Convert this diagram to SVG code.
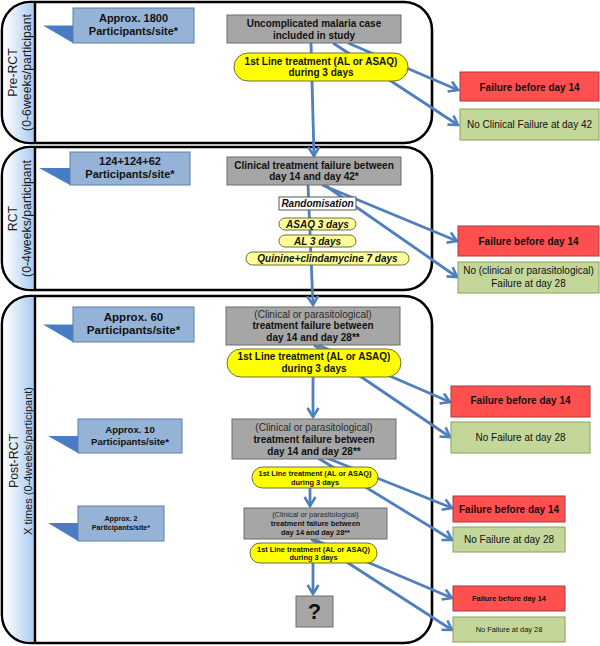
<svg xmlns="http://www.w3.org/2000/svg" width="600" height="646" viewBox="0 0 600 646">
<defs>
<linearGradient id="band" x1="0" y1="0" x2="1" y2="0">
<stop offset="0" stop-color="#ffffff"/>
<stop offset="1" stop-color="#a6caf0"/>
</linearGradient>
<marker id="arr" markerUnits="userSpaceOnUse" markerWidth="16" markerHeight="16" viewBox="0 0 16 16" refX="12" refY="8" orient="auto">
<path d="M3,2.5 L12,8 L3,13.5" fill="none" stroke="#4f7fbf" stroke-width="2.6" stroke-linejoin="miter"/>
</marker>
</defs>
<style>
text{font-family:"Liberation Sans",Arial,Helvetica,sans-serif;fill:#111;text-anchor:middle}
.b{font-weight:bold}
.bi{font-weight:bold;font-style:italic}
.pan{fill:#fff;stroke:#000;stroke-width:2.6}
.band{fill:url(#band)}
.sep{stroke:#000;stroke-width:2.4}
.lab{font-size:12.3px;fill:#1a1a1a}
.call{fill:#95b3d7;stroke:#5d7ea8;stroke-width:1}
.tri{fill:#4a7cc6}
.gray{fill:#a6a6a6;stroke:#6d6d6d;stroke-width:1}
.yel{fill:#ffff00;stroke:#6f6f3a;stroke-width:1}
.lyel{fill:#ffff99;stroke:#6f6f3a;stroke-width:1}
.wht{fill:#fff;stroke:#555;stroke-width:1}
.red{fill:#ff4f4f;stroke:#a83a3a;stroke-width:1}
.grn{fill:#c4d79b;stroke:#8aa05a;stroke-width:1}
.con{fill:none;stroke:#4f7fbf;stroke-width:2.8;marker-end:url(#arr)}
.conn{fill:none;stroke:#4f7fbf;stroke-width:2.8}
.f10{font-size:10px}
.f11{font-size:11px}
.f7{font-size:7.4px}
</style>

<!-- Panels -->
<g id="panel-prerct">
<path class="pan" d="M30,2 H404 A28,28 0 0 1 432,30 V115 A28,28 0 0 1 404,143 H30 A28,28 0 0 1 2,115 V30 A28,28 0 0 1 30,2 Z"/>
<path class="band" d="M35,3.3 H30 A26.7,26.7 0 0 0 3.3,30 V115 A26.7,26.7 0 0 0 30,141.7 H35 Z"/>
<line class="sep" x1="35" y1="2" x2="35" y2="143"/>
<text class="lab" transform="translate(17,72.5) rotate(-90)">Pre-RCT</text>
<text class="lab" transform="translate(31,72.5) rotate(-90)">(0-6weeks/participant</text>
</g>
<g id="panel-rct">
<path class="pan" d="M30,147 H404 A28,28 0 0 1 432,175 V262 A28,28 0 0 1 404,290 H30 A28,28 0 0 1 2,262 V175 A28,28 0 0 1 30,147 Z"/>
<path class="band" d="M35,148.3 H30 A26.7,26.7 0 0 0 3.3,175 V262 A26.7,26.7 0 0 0 30,288.7 H35 Z"/>
<line class="sep" x1="35" y1="147" x2="35" y2="290"/>
<text class="lab" transform="translate(17,218.5) rotate(-90)">RCT</text>
<text class="lab" transform="translate(31,218.5) rotate(-90)">(0-4weeks/participant</text>
</g>
<g id="panel-postrct">
<path class="pan" d="M30,296 H404 A28,28 0 0 1 432,324 V615 A28,28 0 0 1 404,643 H30 A28,28 0 0 1 2,615 V324 A28,28 0 0 1 30,296 Z"/>
<path class="band" d="M35,297.3 H30 A26.7,26.7 0 0 0 3.3,324 V615 A26.7,26.7 0 0 0 30,641.7 H35 Z"/>
<line class="sep" x1="35" y1="296" x2="35" y2="643"/>
<text class="lab" transform="translate(18,461) rotate(-90)">Post-RCT</text>
<text class="lab" transform="translate(32,461) rotate(-90)" style="font-size:11px">X times (0-4weeks/participant)</text>
</g>

<!-- Connectors -->
<g id="connectors">
<path class="con" d="M311,43 L314,156"/>
<path class="con" d="M348,43 L458,90"/>
<path class="con" d="M333,43 L458,125"/>
<path class="con" d="M308,185 L313,305"/>
<path class="con" d="M322,185 L457,241"/>
<path class="con" d="M326,186 L457,277"/>
<path class="con" d="M318,345 L450,402"/>
<path class="con" d="M314,345 L450,437"/>
<path class="con" d="M313,377 L313,417"/>
<path class="con" d="M327,458 L452,508"/>
<path class="con" d="M318,458 L452,540"/>
<path class="con" d="M310,488 L310,506"/>
<path class="con" d="M313,539 L452,598"/>
<path class="con" d="M311,539 L452,630"/>
<path class="con" d="M313,563 L313,594"/>
</g>

<!-- Callouts -->
<g id="callout-1800">
<polygon class="tri" points="43,25.5 73,25.5 73,43"/>
<rect class="call" x="73" y="8" width="121" height="35"/>
<text class="b f11" x="133.5" y="22">Approx. 1800</text>
<text class="b f11" x="133.5" y="35">Participants/site*</text>
</g>
<g id="callout-124">
<polygon class="tri" points="39,168 70,168 70,185"/>
<rect class="call" x="70" y="152" width="120" height="33"/>
<text class="b f11" x="130" y="165">124+124+62</text>
<text class="b f11" x="130" y="177.5">Participants/site*</text>
</g>
<g id="callout-60">
<polygon class="tri" points="43,324.5 73,324.5 73,342"/>
<rect class="call" x="73" y="307" width="121" height="35"/>
<text class="b" style="font-size:11.5px" x="133.5" y="321">Approx. 60</text>
<text class="b" style="font-size:11.5px" x="133.5" y="334">Participants/site*</text>
</g>
<g id="callout-10">
<polygon class="tri" points="48,436 78,436 78,453"/>
<rect class="call" x="78" y="419" width="104" height="34"/>
<text class="b" style="font-size:9.6px" x="130" y="433">Approx. 10</text>
<text class="b" style="font-size:9.6px" x="130" y="445">Participants/site*</text>
</g>
<g id="callout-2">
<polygon class="tri" points="48,523 78,523 78,541"/>
<rect class="call" x="78" y="506" width="86" height="35"/>
<text class="b" style="font-size:7.2px" x="121" y="521">Approx. 2</text>
<text class="b" style="font-size:7.2px" x="121" y="529.5">Participants/site*</text>
</g>

<!-- Pre-RCT nodes -->
<g id="case">
<rect class="gray" x="227" y="15" width="174" height="28"/>
<text class="b f10" x="314" y="27">Uncomplicated malaria case</text>
<text class="b f10" x="314" y="38.5">included in study</text>
</g>
<g id="treat1">
<rect class="yel" x="234" y="53" width="174" height="28" rx="14"/>
<text class="b f10" x="321" y="64.5">1st Line treatment (AL or ASAQ)</text>
<text class="b f10" x="321" y="76">during 3 days</text>
</g>
<g id="fail1">
<rect class="red" x="460" y="72" width="139" height="29"/>
<text class="b f10" x="529.5" y="90.5">Failure before day 14</text>
</g>
<g id="nofail1">
<rect class="grn" x="460" y="109" width="139" height="31"/>
<text class="f10" x="529.5" y="128">No Clinical Failure at day 42</text>
</g>

<!-- RCT nodes -->
<g id="clinfail">
<rect class="gray" x="227" y="157" width="174" height="28"/>
<text class="b f10" x="314" y="168.5">Clinical treatment failure between</text>
<text class="b f10" x="314" y="180">day 14 and day 42*</text>
</g>
<g id="random">
<rect class="wht" x="279" y="197" width="77" height="13"/>
<text class="bi f10" x="317.5" y="207">Randomisation</text>
</g>
<g id="asaq">
<rect class="lyel" x="279" y="218" width="77" height="12" rx="6"/>
<text class="bi f10" x="317.5" y="227.5">ASAQ 3 days</text>
</g>
<g id="al">
<rect class="lyel" x="279" y="235" width="77" height="12" rx="6"/>
<text class="bi f10" x="317.5" y="244.5">AL 3 days</text>
</g>
<g id="quinine">
<rect class="lyel" x="246" y="252" width="163" height="13" rx="6.5"/>
<text class="bi f10" x="327.5" y="262">Quinine+clindamycine 7 days</text>
</g>
<g id="fail2">
<rect class="red" x="458" y="226" width="141" height="30"/>
<text class="b f10" x="528.5" y="244.5">Failure before day 14</text>
</g>
<g id="nofail2">
<rect class="grn" x="458" y="262" width="141" height="31"/>
<text class="f10" x="528.5" y="274">No (clinical or parasitological)</text>
<text class="f10" x="528.5" y="286.5">Failure at day 28</text>
</g>

<!-- Post-RCT nodes -->
<g id="tf3">
<rect class="gray" x="226" y="307" width="174" height="38"/>
<text class="f10" x="313" y="317.5" style="fill:#2a2a2a">(Clinical or parasitological)</text>
<text class="b f10" x="313" y="329">treatment failure between</text>
<text class="b f10" x="313" y="341">day 14 and day 28**</text>
</g>
<g id="treat3">
<rect class="yel" x="227" y="349" width="174" height="28" rx="14"/>
<text class="b f10" x="314" y="360">1st Line treatment (AL or ASAQ)</text>
<text class="b f10" x="314" y="372">during 3 days</text>
</g>
<g id="fail3">
<rect class="red" x="451" y="386" width="139" height="31"/>
<text class="b f10" x="520.5" y="404">Failure before day 14</text>
</g>
<g id="nofail3">
<rect class="grn" x="451" y="422" width="139" height="31"/>
<text class="f10" x="520.5" y="441">No Failure at day 28</text>
</g>
<g id="tf4">
<rect class="gray" x="232" y="419" width="164" height="40"/>
<text class="f10" x="314" y="430.5" style="fill:#2a2a2a">(Clinical or parasitological)</text>
<text class="b f10" x="314" y="442.5">treatment failure between</text>
<text class="b f10" x="314" y="454.5">day 14 and day 28**</text>
</g>
<g id="treat4">
<rect class="yel" x="252" y="467" width="126" height="21" rx="10.5"/>
<text class="b f7" x="315" y="476">1st Line treatment (AL or ASAQ)</text>
<text class="b f7" x="315" y="484.5">during 3 days</text>
</g>
<g id="fail4">
<rect class="red" x="453" y="496" width="112" height="26"/>
<text class="b f10" x="509" y="512.5">Failure before day 14</text>
</g>
<g id="nofail4">
<rect class="grn" x="453" y="527" width="112" height="25"/>
<text class="f10" x="509" y="543">No Failure at day 28</text>
</g>
<g id="tf5">
<rect class="gray" x="244" y="508" width="143" height="31"/>
<text class="f7" x="315.5" y="517" style="fill:#2a2a2a">(Clinical or parasitological)</text>
<text class="b f7" x="315.5" y="526">treatment failure between</text>
<text class="b f7" x="315.5" y="535">day 14 and day 28**</text>
</g>
<g id="treat5">
<rect class="yel" x="250" y="543" width="127" height="20" rx="10"/>
<text class="b f7" x="313.5" y="551.5">1st Line treatment (AL or ASAQ)</text>
<text class="b f7" x="313.5" y="560">during 3 days</text>
</g>
<g id="unknown">
<rect class="gray" x="296" y="596" width="37" height="31"/>
<text class="b" style="font-size:22px" x="314.5" y="619">?</text>
</g>
<g id="fail5">
<rect class="red" x="453" y="586" width="112" height="25"/>
<text class="b f7" x="509" y="601">Failure before day 14</text>
</g>
<g id="nofail5">
<rect class="grn" x="453" y="617" width="112" height="25"/>
<text class="f7" x="509" y="632">No Failure at day 28</text>
</g>
</svg>
